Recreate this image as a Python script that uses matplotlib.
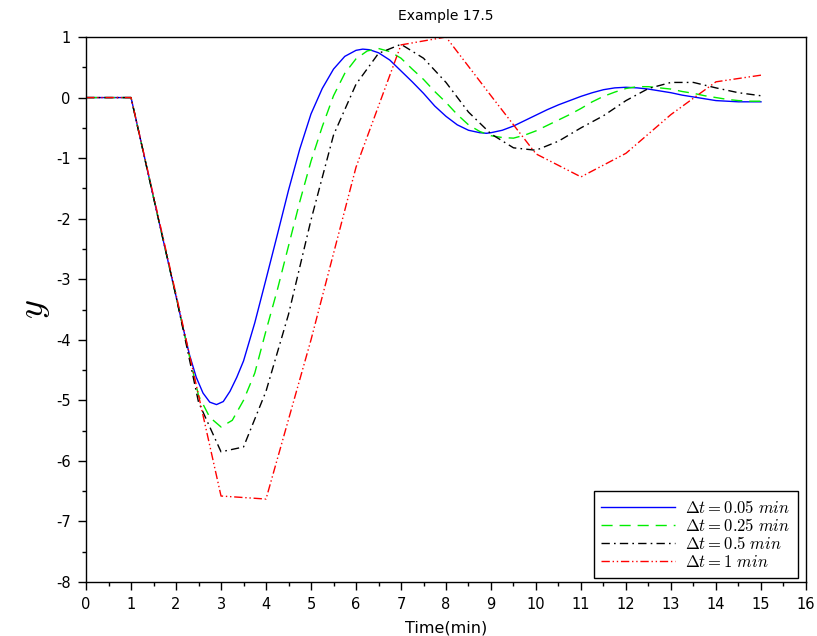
import numpy as np
import matplotlib
matplotlib.use("Agg")
import matplotlib.pyplot as plt
from matplotlib.ticker import MultipleLocator

plt.rcParams['mathtext.fontset'] = 'cm'
plt.rcParams['font.family'] = ['DejaVu Sans']
plt.rcParams['axes.unicode_minus'] = False
TXT = ['DejaVu Sans Condensed', 'DejaVu Sans']

# Response for the smallest step (finer spacing around the extrema)
t_005 = [0, 0.5, 1.0, 1.25, 1.5, 1.75, 2.0, 2.15, 2.3, 2.45, 2.6, 2.75, 2.9,
         3.05, 3.2, 3.35, 3.5, 3.75, 4.0, 4.25, 4.5, 4.75, 5.0, 5.25, 5.5,
         5.75, 6.0, 6.15, 6.3, 6.5, 6.75, 7.0, 7.25, 7.5, 7.75, 8.0, 8.25,
         8.5, 8.75, 8.9, 9.0, 9.25, 9.5, 9.75, 10.0, 10.25, 10.5, 10.75, 11.0,
         11.25, 11.5, 11.75, 12.0, 12.25, 12.5, 12.75, 13.0, 13.25, 13.5,
         13.75, 14.0, 14.25, 14.5, 14.75, 15.0]
y_005 = [0, 0, 0, -0.82, -1.65, -2.47, -3.28, -3.78, -4.25, -4.62, -4.88,
         -5.03, -5.07, -5.02, -4.85, -4.62, -4.35, -3.72, -3.0, -2.27, -1.53,
         -0.85, -0.27, 0.15, 0.47, 0.68, 0.78, 0.8, 0.79, 0.74, 0.62, 0.44,
         0.26, 0.07, -0.14, -0.31, -0.45, -0.54, -0.58, -0.59, -0.58, -0.54,
         -0.47, -0.38, -0.29, -0.2, -0.12, -0.05, 0.02, 0.08, 0.13, 0.16, 0.17,
         0.16, 0.14, 0.11, 0.08, 0.04, 0.01, -0.02, -0.05, -0.06, -0.07, -0.07,
         -0.07]

# Dt = 0.25 min
t_025 = np.arange(0, 15.001, 0.25)
y_025 = [0, 0, 0, 0, 0, -0.82, -1.65, -2.47, -3.28, -4.12, -4.92, -5.28, -5.44,
         -5.33, -5.0, -4.55, -3.85, -3.18, -2.45, -1.72, -1.05, -0.48, 0.03, 0.4,
         0.64, 0.77, 0.81, 0.76, 0.65, 0.47, 0.3, 0.1, -0.08, -0.28, -0.45,
         -0.56, -0.63, -0.66, -0.67, -0.62, -0.55, -0.46, -0.37, -0.28, -0.18,
         -0.07, 0.02, 0.09, 0.15, 0.18, 0.18, 0.16, 0.14, 0.1, 0.07, 0.03, 0.0,
         -0.03, -0.05, -0.06, -0.06]

# Dt = 0.5 min
t_05 = np.arange(0, 15.001, 0.5)
y_05 = [0, 0, 0, -1.65, -3.28, -5.03, -5.85, -5.77, -4.85, -3.58, -2.02, -0.62,
        0.22, 0.73, 0.88, 0.65, 0.25, -0.24, -0.6, -0.83, -0.87, -0.72, -0.5,
        -0.3, -0.05, 0.15, 0.25, 0.25, 0.16, 0.08, 0.03]

# Dt = 1 min
t_1 = np.arange(0, 15.001, 1.0)
y_1 = [0, 0, -3.25, -6.58, -6.63, -4.0, -1.15, 0.87, 1.0, 0.03, -0.93, -1.31,
       -0.92, -0.28, 0.26, 0.37]

labels = [r'$\Delta t = 0.05\ min$', r'$\Delta t = 0.25\ min$',
          r'$\Delta t = 0.5\ min$', r'$\Delta t = 1\ min$']

fig = plt.figure(figsize=(8.17, 6.36), dpi=100)
ax = fig.add_axes([0.1053, 0.0849, 0.8812, 0.8569])

ax.plot(t_005, y_005, color='#0000ff', lw=1.0, ls='-', label=labels[0])
ax.plot(t_025, y_025, color='#00ee00', lw=1.0, ls=(0, (8, 5)), label=labels[1])
ax.plot(t_05, y_05, color='black', lw=1.0, ls=(0, (6, 3, 1.2, 3)), label=labels[2])
ax.plot(t_1, y_1, color='#ff0000', lw=1.0,
        ls=(0, (6, 2, 1, 2, 1, 2)), label=labels[3])

ax.set_xlim(0, 16)
ax.set_ylim(-8, 1)
ax.xaxis.set_major_locator(MultipleLocator(1))
ax.xaxis.set_minor_locator(MultipleLocator(0.5))
ax.yaxis.set_major_locator(MultipleLocator(1))
ax.yaxis.set_minor_locator(MultipleLocator(0.5))
ax.tick_params(which='both', direction='out', top=False, right=False, width=1)
ax.tick_params(which='major', length=6, pad=5)
ax.tick_params(which='minor', length=3)
for lab in ax.get_xticklabels() + ax.get_yticklabels():
    lab.set_family(TXT)
    lab.set_fontsize(10.5)
for s in ax.spines.values():
    s.set_linewidth(1.0)

ax.set_title('Example 17.5', fontsize=10, pad=12, family=TXT)
ax.set_xlabel('Time(min)', fontsize=11.5, labelpad=6, family=TXT)
ax.set_ylabel(r'$y$', fontsize=26, labelpad=3)

leg = ax.legend(loc='lower right', fontsize=12, frameon=True, fancybox=False,
                edgecolor='black', framealpha=1, borderpad=0.45,
                labelspacing=0.0, handlelength=4.4, handletextpad=0.65,
                borderaxespad=0, bbox_to_anchor=(0.9889, 0.0073))
leg.get_frame().set_linewidth(1.0)

fig.savefig('out.png', dpi=100)
